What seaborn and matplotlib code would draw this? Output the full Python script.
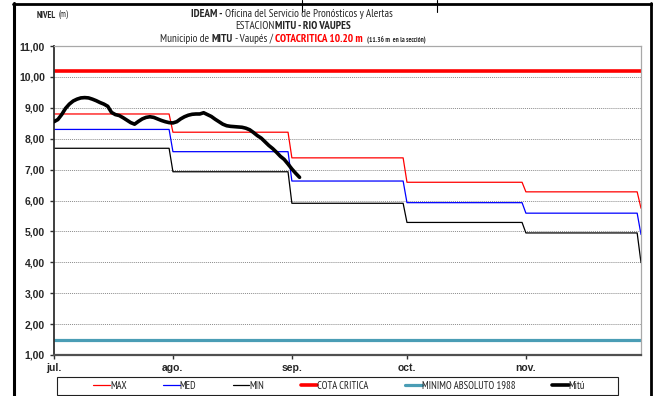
import numpy as np
import pandas as pd
import matplotlib
matplotlib.use("Agg")
import matplotlib.pyplot as plt
import seaborn as sns
from matplotlib.lines import Line2D
from matplotlib.patches import Rectangle

# ---- data -------------------------------------------------------------
month_labels = ["jul.", "ago.", "sep.", "oct.", "nov."]
month_days = [31, 31, 30, 31, 30]

# monthly reference levels (m) and the value on the closing day
nivel_max = [8.80, 8.21, 7.38, 6.59, 6.28]
nivel_max_fin = 5.75
nivel_med = [8.30, 7.58, 6.63, 5.93, 5.59]
nivel_med_fin = 4.90
nivel_min = [7.69, 6.93, 5.91, 5.29, 4.95]
nivel_min_fin = 3.99

cota_critica = 10.20
minimo_absoluto_1988 = 1.50

# daily observed level at Mitú, from 1 July
nivel_mitu = [
    8.55, 8.62, 8.78, 8.98, 9.12, 9.22, 9.28, 9.32, 9.33, 9.32,
    9.28, 9.23, 9.17, 9.12, 9.05, 8.85, 8.78, 8.75, 8.68, 8.60,
    8.52, 8.47, 8.56, 8.64, 8.69, 8.71, 8.69, 8.64, 8.59, 8.55,
    8.52, 8.51, 8.55, 8.64, 8.71, 8.76, 8.79, 8.80, 8.80, 8.84,
    8.78, 8.72, 8.63, 8.55, 8.47, 8.42, 8.40, 8.39, 8.38, 8.37,
    8.34, 8.29, 8.20, 8.10, 8.02, 7.90, 7.78, 7.68, 7.56, 7.43,
    7.33, 7.18, 7.02, 6.88, 6.75,
]

# ---- build daily series ----------------------------------------------
fechas = pd.date_range("2021-07-01", "2021-12-01", freq="D")
serie_max = np.append(np.repeat(nivel_max, month_days), nivel_max_fin)
serie_med = np.append(np.repeat(nivel_med, month_days), nivel_med_fin)
serie_min = np.append(np.repeat(nivel_min, month_days), nivel_min_fin)
fechas_mitu = fechas[: len(nivel_mitu)]
inicio_mes = pd.date_range("2021-07-01", periods=len(month_labels), freq="MS")

# ---- style ------------------------------------------------------------
sns.set_style("white")
plt.rcParams["font.family"] = ["Liberation Sans", "DejaVu Sans"]
NARROW = ["PT Sans Narrow", "Liberation Sans", "DejaVu Sans"]

W, H = 653, 396
fig = plt.figure(figsize=(W / 100, H / 100), dpi=100)
fig.patch.set_facecolor("white")

def fx(px):
    return px / W

def fy(py):
    return 1 - py / H

ax = fig.add_axes([fx(54), fy(355), fx(641) - fx(54), fy(46) - fy(355)])

sns.lineplot(x=fechas, y=serie_max, color="#FF0000", lw=0.9, ax=ax, label="MAX")
sns.lineplot(x=fechas, y=serie_med, color="#0000FF", lw=0.9, ax=ax, label="MED")
sns.lineplot(x=fechas, y=serie_min, color="#000000", lw=0.9, ax=ax, label="MIN")
ax.axhline(cota_critica, color="#FF0000", lw=2.6, label="COTA CRITICA")
ax.axhline(minimo_absoluto_1988, color="#4A9DB5", lw=2.3,
           label="MINIMO ABSOLUTO 1988")
sns.lineplot(x=fechas_mitu, y=nivel_mitu, color="#000000", lw=2.6, ax=ax,
             label="Mitú", zorder=5)

handles, labels = ax.get_legend_handles_labels()
ax.get_legend().remove()

ax.set_xlim(fechas[0], fechas[-1])
ax.set_ylim(1, 11)
yt = np.arange(1, 12)
ax.set_yticks(yt)
ax.set_yticklabels([f"{v:.2f}".replace(".", ",") for v in yt],
                   fontsize=7.5, fontweight="bold")
ax.set_xticks(inicio_mes)
ax.set_xticklabels(month_labels, fontsize=7.5, fontweight="bold")
ax.set_xlabel("")
ax.set_ylabel("")

ax.yaxis.grid(True, ls=(0, (1, 1)), color="#8c8c8c", lw=0.7)
ax.xaxis.grid(False)
ax.tick_params(axis="y", direction="out", length=3, width=1, color="#303030",
               pad=3.5, left=True)
ax.tick_params(axis="x", direction="out", length=3, width=1, color="#303030",
               pad=3, bottom=True)
ax.spines["left"].set_color("#303030")
ax.spines["left"].set_linewidth(1.3)
ax.spines["bottom"].set_color("#505050")
ax.spines["bottom"].set_linewidth(1.6)
for s in ("top", "right"):
    ax.spines[s].set_color("#a8a8a8")
    ax.spines[s].set_linewidth(0.9)

# ---- legend -----------------------------------------------------------
fig.add_artist(Rectangle((fx(57), fy(395)), fx(618) - fx(57), fy(377) - fy(395),
                         transform=fig.transFigure, fill=False,
                         edgecolor="#202020", lw=0.8))
fig.legend(handles, labels, loc="center", ncol=6, mode="expand",
           bbox_to_anchor=(fx(93), fy(395), fx(585) - fx(93), fy(377) - fy(395)),
           frameon=False, handlelength=1.6, handletextpad=0.0,
           borderpad=0, borderaxespad=0, columnspacing=1.0,
           labelcolor="#202020", prop=dict(family=NARROW, size=7.6))

# ---- outer frame ------------------------------------------------------
for (x0, y0, x1, y1, lw) in [(13, 3.5, 652, 3.5, 2.0), (14, 3, 14, 396, 2.2),
                             (651, 3, 651, 396, 2.0),
                             (302, 0, 302, 12, 0.8), (437, 0, 437, 12, 0.8)]:
    fig.add_artist(Line2D([fx(x0), fx(x1)], [fy(y0), fy(y1)],
                          transform=fig.transFigure, color="black", lw=lw))

# ---- header text with mixed styles -------------------------------------
renderer = fig.canvas.get_renderer()

def rich_line(pieces, baseline, x_center=None, x_left=None):
    texts, gaps = [], []
    for s, kw, gap in pieces:
        t = fig.text(0, fy(baseline), s, va="baseline", ha="left",
                     family=NARROW, **kw)
        texts.append(t)
        gaps.append(gap)
    widths = [t.get_window_extent(renderer).width for t in texts]
    total = sum(widths) + sum(gaps[1:])
    x = x_left if x_left is not None else x_center - total / 2
    for i, (t, w) in enumerate(zip(texts, widths)):
        if i:
            x += gaps[i]
        t.set_x(fx(x))
        x += w

FS = 8.0
rich_line([("NIVEL", dict(fontsize=6.5, fontweight="bold"), 0),
           ("(m)", dict(fontsize=6.5), 2.5)], baseline=18.3, x_left=37)

rich_line([("IDEAM -", dict(fontsize=FS, fontweight="bold"), 0),
           ("Oficina del Servicio de Pronósticos y Alertas",
            dict(fontsize=FS), 2.5)], baseline=17.3, x_center=292)

rich_line([("ESTACION", dict(fontsize=FS), 0),
           ("MITU - RIO VAUPES", dict(fontsize=FS, fontweight="bold"), 0.5)],
          baseline=29, x_center=293)

rich_line([("Municipio de", dict(fontsize=FS), 0),
           ("MITU", dict(fontsize=FS, fontweight="bold"), 2.5),
           ("- Vaupés /", dict(fontsize=FS), 1.5),
           ("COTACRITICA 10.20 m", dict(fontsize=FS, fontweight="bold",
                                        color="#FF0000"), 2.5),
           ("(11.36 m  en la sección)", dict(fontsize=5.0, fontweight="bold"), 4)],
          baseline=41.7, x_center=293)

fig.savefig("out.png", dpi=100)
